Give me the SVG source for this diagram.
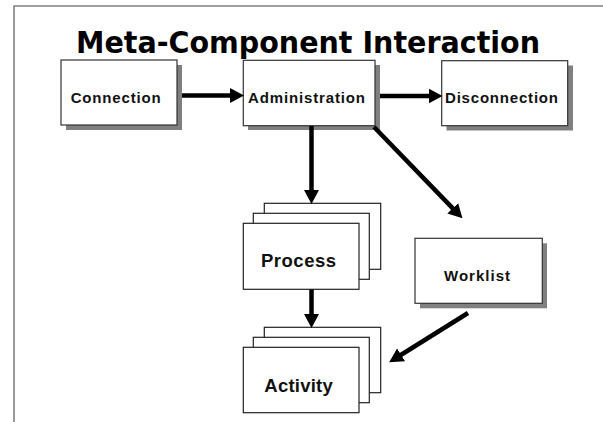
<svg xmlns="http://www.w3.org/2000/svg" width="603" height="422" viewBox="0 0 603 422">
  <style>
    .frame { fill: none; stroke: #808080; stroke-width: 1.6; }
    .shadow { fill: #808080; stroke: none; }
    .box { fill: #ffffff; stroke: #333333; stroke-width: 1.2; }
    .sheet { fill: #ffffff; stroke: #222222; stroke-width: 1.2; }
    .title { font-family: "DejaVu Sans", Verdana, sans-serif; font-weight: bold; font-size: 31px; fill: #000000; }
    .label { font-family: "Liberation Sans", Arial, sans-serif; font-weight: bold; font-size: 15px; fill: #111111; }
    .label-lg { font-family: "Liberation Sans", Arial, sans-serif; font-weight: bold; font-size: 18.5px; fill: #111111; }
    .link { fill: none; stroke: #000000; stroke-width: 4.5; marker-end: url(#head); }
  </style>
  <defs>
    <marker id="head" markerUnits="userSpaceOnUse" markerWidth="14" markerHeight="16" refX="5" refY="8" orient="auto">
      <path d="M0,0.5 L14,8 L0,15.5 z" fill="#000000"/>
    </marker>
  </defs>

  <rect width="603" height="422" fill="#ffffff"/>

  <!-- page frame: top and left rules -->
  <path class="frame" d="M14,422 V6 H603"/>

  <text class="title" x="76" y="53" textLength="464" lengthAdjust="spacingAndGlyphs">Meta-Component Interaction</text>

  <g id="connection">
    <rect class="shadow" x="66" y="65" width="116" height="65"/>
    <rect class="box" x="61" y="60" width="116" height="65"/>
    <text class="label" x="70.7" y="102.7" textLength="90" lengthAdjust="spacing">Connection</text>
  </g>

  <g id="administration">
    <rect class="shadow" x="248" y="65" width="132" height="65"/>
    <rect class="box" x="243.3" y="60.3" width="131.7" height="65.4"/>
    <text class="label" x="248" y="103.3" textLength="117" lengthAdjust="spacing">Administration</text>
  </g>

  <g id="disconnection">
    <rect class="shadow" x="446.5" y="65.5" width="126.5" height="65"/>
    <rect class="box" x="441.7" y="60.7" width="126" height="65"/>
    <text class="label" x="445" y="103" textLength="113" lengthAdjust="spacing">Disconnection</text>
  </g>

  <g id="process">
    <rect class="sheet" x="264.3" y="203.3" width="116.4" height="66"/>
    <rect class="sheet" x="253.3" y="213.3" width="116" height="66"/>
    <rect class="sheet" x="243.3" y="223.3" width="115.7" height="66"/>
    <text class="label-lg" x="261" y="267.3" textLength="75" lengthAdjust="spacing">Process</text>
  </g>

  <g id="worklist">
    <rect class="shadow" x="420" y="243.3" width="127" height="65"/>
    <rect class="box" x="415" y="238.3" width="127.3" height="65"/>
    <text class="label" x="444" y="280.7" textLength="66" lengthAdjust="spacing">Worklist</text>
  </g>

  <g id="activity">
    <rect class="sheet" x="264.3" y="327.3" width="116.4" height="65.4"/>
    <rect class="sheet" x="253.3" y="337.3" width="116" height="65.4"/>
    <rect class="sheet" x="243.3" y="347.3" width="115.7" height="65.4"/>
    <text class="label-lg" x="264.3" y="391.7" textLength="68.4" lengthAdjust="spacing">Activity</text>
  </g>

  <g id="connectors">
    <path class="link" d="M182,95.5 H235"/>
    <path class="link" d="M380,96 H433.5"/>
    <path class="link" d="M311.5,126 V195"/>
    <path class="link" d="M311.5,289.5 V319"/>
    <path class="link" d="M374,127 L456.2,211.9"/>
    <path class="link" d="M468,313 L396.8,357.5"/>
  </g>
</svg>
